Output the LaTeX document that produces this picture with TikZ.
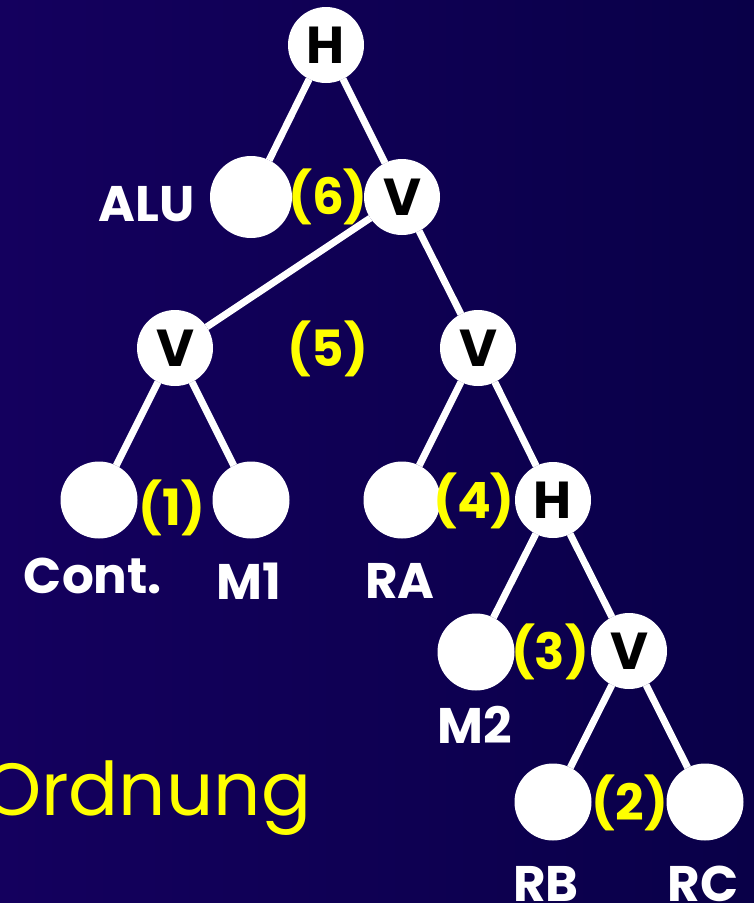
\documentclass[tikz,border=0pt]{standalone}
\usepackage{fontspec}
\setmainfont{Poppins}

\definecolor{slideleft}{RGB}{20,0,94}
\definecolor{slideright}{RGB}{9,0,72}
\definecolor{costyellow}{RGB}{255,255,0}

\begin{document}
\begin{tikzpicture}[x=1pt, y=-1pt,
    op/.style={circle, fill=white, minimum size=76pt, inner sep=0pt, outer sep=0pt,
      font=\fontsize{52}{60}\selectfont\bfseries},
    leaf/.style={circle, fill=white, minimum size=77pt, inner sep=0pt, outer sep=0pt},
    edge/.style={white, line width=7pt},
    modname/.style={text=white, inner sep=0pt, anchor=base,
      font=\fontsize{50}{60}\selectfont\bfseries},
    cost/.style={text=costyellow, inner sep=0pt,
      font=\fontsize{50}{60}\selectfont\bfseries}]
  \useasboundingbox (0,0) rectangle (754,903);
  \shade[left color=slideleft, right color=slideright] (0,0) rectangle (754,903);

  % slicing tree
  \node[op] (H1) at (326, 45) {H};
  \node[leaf, minimum size=82pt] (ALU) at (251, 197) {};
  \node[op] (V1) at (402, 197) {V};
  \node[op] (V2) at (175, 348) {V};
  \node[op] (V3) at (478, 348) {V};
  \node[leaf] (Cont) at (99, 500) {};
  \node[leaf] (M1) at (251, 500) {};
  \node[leaf] (RA) at (402, 500) {};
  \node[op] (H2) at (553, 500) {H};
  \node[leaf] (M2) at (476, 652) {};
  \node[op] (V4) at (629, 651) {V};
  \node[leaf] (RB) at (553, 802) {};
  \node[leaf] (RC) at (705, 802) {};

  \draw[edge] (H1) -- (ALU);
  \draw[edge] (H1) -- (V1);
  \draw[edge] (V1) -- (V2);
  \draw[edge] (V1) -- (V3);
  \draw[edge] (V2) -- (Cont);
  \draw[edge] (V2) -- (M1);
  \draw[edge] (V3) -- (RA);
  \draw[edge] (V3) -- (H2);
  \draw[edge] (H2) -- (M2);
  \draw[edge] (H2) -- (V4);
  \draw[edge] (V4) -- (RB);
  \draw[edge] (V4) -- (RC);

  % module names
  \node[modname, anchor=base east] (nALU) at (195, 221) {ALU};
  \node[modname] (nCont) at (93, 593) {Cont.};
  \node[modname] (nM1) at (249, 599) {M1};
  \node[modname] (nRA) at (400, 598) {RA};
  \node[modname] (nM2) at (475, 743) {M2};
  \node[modname] (nRB) at (546, 901) {RB};
  \node[modname] (nRC) at (703, 901) {RC};

  % order of the cuts
  \node[cost] (c1) at (172, 508) {(1)};
  \node[cost] (c2) at (630, 803) {(2)};
  \node[cost] (c3) at (550, 652) {(3)};
  \node[cost] (c4) at (474, 501) {(4)};
  \node[cost] (c5) at (328, 349) {(5)};
  \node[cost] (c6) at (328, 197) {(6)};

  \node[text=costyellow, inner sep=0pt, anchor=base west,
    font=\fontsize{74}{86}\selectfont] (title) at (-17, 815) {Ordnung};
\end{tikzpicture}
\end{document}
